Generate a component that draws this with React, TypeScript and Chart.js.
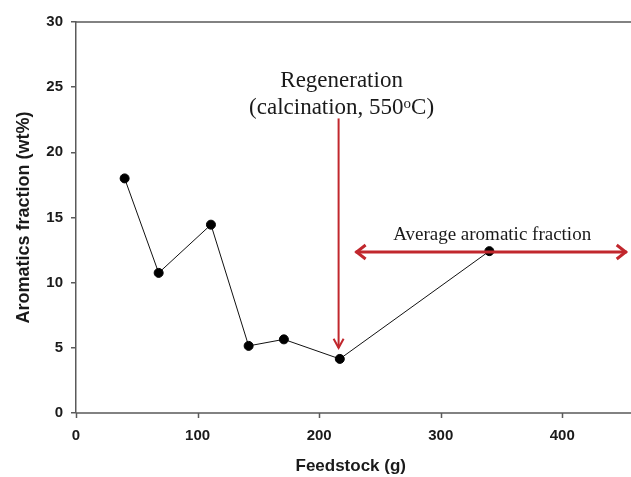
import React, { useEffect, useRef } from "react";
import { Chart, registerables } from "chart.js";

Chart.register(...registerables);

const feedstock = [40, 68, 111, 142, 171, 217, 340];
const aromatics = [18.0, 10.75, 14.45, 5.15, 5.65, 4.15, 12.42];
const xTicks = [0, 100, 200, 300, 400];
const yTicks = [0, 5, 10, 15, 20, 25, 30];

const regenX = 216;
const regenTop = 22.6;
const regenBottom = 5.0;
const avgY = 12.35;
const avgFrom = 230;
const avgTo = 453;

const RED = "#C1272D";
const AXIS = "#5a5a5a";

const annotationPlugin = {
  id: "annots",
  afterDatasetsDraw(chart: any) {
    const { ctx, chartArea, scales } = chart;
    const x = scales.x;
    const y = scales.y;
    ctx.save();
    ctx.strokeStyle = AXIS;
    ctx.lineWidth = 1.5;
    ctx.beginPath();
    ctx.moveTo(chartArea.left, chartArea.top);
    ctx.lineTo(chart.width, chartArea.top);
    ctx.moveTo(chartArea.left, chartArea.bottom);
    ctx.lineTo(chart.width, chartArea.bottom);
    ctx.stroke();
    // x tick marks
    ctx.beginPath();
    for (const v of xTicks) {
      const px = Math.round(x.getPixelForValue(v)) + 0.5;
      ctx.moveTo(px, chartArea.bottom);
      ctx.lineTo(px, chartArea.bottom + 5);
    }
    ctx.stroke();

    const vx = x.getPixelForValue(regenX);
    const vt = y.getPixelForValue(regenTop);
    const vb = y.getPixelForValue(regenBottom);
    ctx.strokeStyle = RED;
    ctx.lineWidth = 2;
    ctx.beginPath();
    ctx.moveTo(vx, vt);
    ctx.lineTo(vx, vb);
    ctx.stroke();
    ctx.beginPath();
    ctx.moveTo(vx - 5, vb - 9);
    ctx.lineTo(vx, vb);
    ctx.lineTo(vx + 5, vb - 9);
    ctx.stroke();

    const hy = y.getPixelForValue(avgY);
    const hl = x.getPixelForValue(avgFrom);
    const hr = x.getPixelForValue(avgTo);
    ctx.lineWidth = 3;
    ctx.beginPath();
    ctx.moveTo(hl, hy);
    ctx.lineTo(hr, hy);
    ctx.stroke();
    ctx.beginPath();
    ctx.moveTo(hl + 10, hy - 7);
    ctx.lineTo(hl + 1, hy);
    ctx.lineTo(hl + 10, hy + 7);
    ctx.moveTo(hr - 10, hy - 7);
    ctx.lineTo(hr - 1, hy);
    ctx.lineTo(hr - 10, hy + 7);
    ctx.stroke();

    ctx.fillStyle = "#1a1a1a";
    ctx.textBaseline = "alphabetic";
    ctx.textAlign = "center";
    ctx.font = "23px 'Liberation Serif', 'Times New Roman', serif";
    ctx.fillText("Regeneration", vx + 3, vt - 31);

    const base = "(calcination, 550";
    const tail = "C)";
    const bigFont = "23px 'Liberation Serif', 'Times New Roman', serif";
    const smallFont = "15px 'Liberation Serif', 'Times New Roman', serif";
    ctx.font = bigFont;
    const w1 = ctx.measureText(base).width;
    const w3 = ctx.measureText(tail).width;
    ctx.font = smallFont;
    const w2 = ctx.measureText("o").width;
    const total = w1 + w2 + w3;
    let sx = vx + 3 - total / 2;
    const by = vt - 4;
    ctx.textAlign = "left";
    ctx.font = bigFont;
    ctx.fillText(base, sx, by);
    sx += w1;
    ctx.font = smallFont;
    ctx.fillText("o", sx, by - 6);
    sx += w2;
    ctx.font = bigFont;
    ctx.fillText(tail, sx, by);

    ctx.textAlign = "center";
    ctx.font = "19px 'Liberation Serif', 'Times New Roman', serif";
    ctx.fillText("Average aromatic fraction", (hl + hr) / 2 + 1, hy - 12);
    ctx.restore();
  },
};

export default function App() {
  const ref = useRef<HTMLCanvasElement | null>(null);
  useEffect(() => {
    if (!ref.current) return;
    const chart = new Chart(ref.current, {
      type: "scatter",
      data: {
        datasets: [
          {
            data: feedstock.map((f, i) => ({ x: f, y: aromatics[i] })),
            showLine: true,
            borderColor: "#111",
            borderWidth: 1,
            pointBackgroundColor: "#000",
            pointBorderColor: "#000",
            pointRadius: 4.5,
          },
        ],
      },
      options: {
        animation: false,
        responsive: false,
        maintainAspectRatio: false,
        layout: { padding: { top: 22, right: 0, left: 0, bottom: 0 } },
        plugins: { legend: { display: false }, tooltip: { enabled: false } },
        scales: {
          x: {
            type: "linear",
            min: 0,
            max: 452,
            afterBuildTicks: (s: any) => {
              s.ticks = xTicks.map((v) => ({ value: v }));
            },
            afterFit: (s: any) => {
              s.height = 64;
            },
            border: { display: false },
            grid: { display: false, tickLength: 5 },
            ticks: {
              padding: 9,
              color: "#1a1a1a",
              font: { family: "'Liberation Sans', Arial, sans-serif", size: 15, weight: "bold" },
            },
            title: {
              display: true,
              text: "Feedstock (g)",
              color: "#1a1a1a",
              padding: { top: 0, bottom: 0 },
              font: { family: "'Liberation Sans', Arial, sans-serif", size: 17, weight: "bold" },
            },
          },
          y: {
            type: "linear",
            min: 0,
            max: 30,
            afterBuildTicks: (s: any) => {
              s.ticks = yTicks.map((v) => ({ value: v }));
            },
            afterFit: (s: any) => {
              s.width = 76;
            },
            border: { display: true, color: AXIS, width: 1.5 },
            grid: { display: true, drawOnChartArea: false, drawTicks: true, tickLength: 5, color: AXIS, lineWidth: 1.5 },
            ticks: {
              padding: 8,
              color: "#1a1a1a",
              font: { family: "'Liberation Sans', Arial, sans-serif", size: 15, weight: "bold" },
            },
            title: {
              display: true,
              text: "Aromatics fraction (wt%)",
              color: "#1a1a1a",
              padding: { top: 13, bottom: 0 },
              font: { family: "'Liberation Sans', Arial, sans-serif", size: 18, weight: "bold" },
            },
          },
        },
      },
      plugins: [annotationPlugin],
    } as any);
    return () => chart.destroy();
  }, []);
  return (
    <div style={{ position: "absolute", left: 0, top: 0, width: 631, height: 477, background: "#fff" }}>
      <canvas ref={ref} width={631} height={477} style={{ display: "block" }} />
    </div>
  );
}
